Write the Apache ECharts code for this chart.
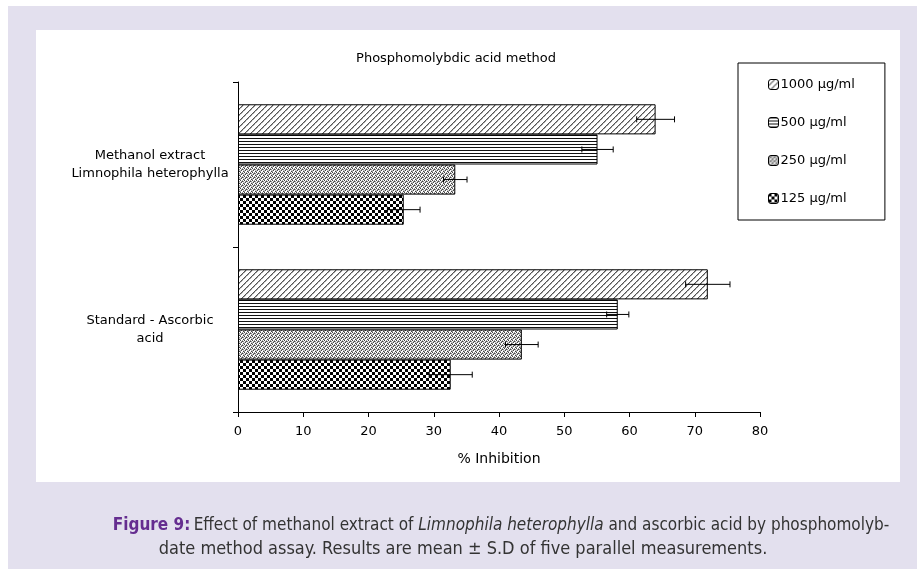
<!DOCTYPE html>
<html>
<head>
<meta charset="utf-8">
<script src="https://cdn.jsdelivr.net/npm/echarts@6/dist/echarts.min.js"></script>
<style>
html,body{margin:0;padding:0;background:#fff;}
#main{width:917px;height:569px;}
</style>
</head>
<body>
<div id="main"></div>
<script>
// ---- data ----
const categories = ['Standard - Ascorbic\nacid', 'Methanol extract\nLimnophila heterophylla'];
const seriesNames = ['1000 µg/ml', '500 µg/ml', '250 µg/ml', '125 µg/ml'];
const means1000 = [72.0, 64.0];
const means500  = [58.2, 55.1];
const means250  = [43.5, 33.3];
const means125  = [32.6, 25.4];
const sd1000 = [3.4, 2.9];
const sd500  = [1.7, 2.4];
const sd250  = [2.5, 1.8];
const sd125  = [3.3, 2.5];
const xTicks = {min: 0, max: 80, interval: 10};

const allMeans = [means1000, means500, means250, means125];
const allSd = [sd1000, sd500, sd250, sd125];

// ---- patterns ----
function makeTile(w, h, draw) {
  const c = document.createElement('canvas');
  c.width = w; c.height = h;
  const ctx = c.getContext('2d');
  ctx.fillStyle = '#fff';
  ctx.fillRect(0, 0, w, h);
  draw(ctx);
  return c;
}
const pat1000 = makeTile(6, 6, ctx => {
  ctx.fillStyle = '#555';
  for (let i = 0; i < 6; i++) { ctx.fillRect(i, 5 - i, 1, 1); }
  ctx.fillStyle = '#a0a0a0';
  for (let i = 0; i < 6; i++) { ctx.fillRect((i + 1) % 6, 5 - i, 1, 1); }
  ctx.fillStyle = '#cccccc';
  ctx.fillRect(0, 0, 1, 1); ctx.fillRect(3, 3, 1, 1);
});
const pat500 = makeTile(4, 3, ctx => {
  ctx.fillStyle = '#111';
  ctx.fillRect(0, 0, 4, 1);
});
const pat250 = makeTile(4, 4, ctx => {
  ctx.fillStyle = '#444';
  ctx.fillRect(0, 0, 1, 1); ctx.fillRect(2, 1, 1, 1);
  ctx.fillRect(1, 2, 1, 1); ctx.fillRect(3, 3, 1, 1);
  ctx.fillStyle = '#999';
  ctx.fillRect(2, 0, 1, 1); ctx.fillRect(0, 3, 1, 1);
  ctx.fillRect(3, 1, 1, 1); ctx.fillRect(1, 1, 1, 1);
  ctx.fillStyle = '#c8c8c8';
  ctx.fillRect(3, 2, 1, 1); ctx.fillRect(0, 2, 1, 1);
});
const pat125 = makeTile(6, 6, ctx => {
  ctx.fillStyle = '#000';
  ctx.fillRect(0, 0, 3, 3);
  ctx.fillRect(3, 3, 3, 3);
});
const patterns = [pat1000, pat500, pat250, pat125];

const catGap = 0.27; // barCategoryGap fraction
const nSeries = 4;

const barSeries = seriesNames.map((name, i) => ({
  name: name,
  type: 'bar',
  data: allMeans[i],
  barGap: '0%',
  barCategoryGap: (catGap * 100) + '%',
  itemStyle: {
    color: {image: patterns[i], repeat: 'repeat'},
    borderColor: '#000',
    borderWidth: 1
  },
  z: 2
}));

const errSeries = seriesNames.map((name, i) => ({
  name: name,
  type: 'custom',
  data: allMeans[i].map((m, k) => [m, allSd[i][k], k]),
  encode: {x: [0], y: 2},
  z: 5,
  silent: true,
  renderItem: function (params, api) {
    const m = api.value(0), sd = api.value(1), cat = api.value(2);
    const center = api.coord([m, cat]);
    const band = api.size([0, 1])[1];
    const used = band * (1 - catGap);
    const w = used / nSeries;
    const y = center[1] - used / 2 + w * (i + 0.5);
    const x1 = api.coord([m - sd, cat])[0];
    const x2 = api.coord([m + sd, cat])[0];
    const st = {stroke: '#000', lineWidth: 1};
    return {
      type: 'group',
      children: [
        {type: 'line', shape: {x1: x1, y1: y, x2: x2, y2: y}, style: st},
        {type: 'line', shape: {x1: x1, y1: y - 3, x2: x1, y2: y + 3}, style: st},
        {type: 'line', shape: {x1: x2, y1: y - 3, x2: x2, y2: y + 3}, style: st}
      ]
    };
  }
}));

const chart = echarts.init(document.getElementById('main'), null, {renderer: 'canvas'});
const font = 'DejaVu Sans, Liberation Sans, Arial, sans-serif';
const capFont = 'Liberation Sans Narrow, DejaVu Sans Condensed, sans-serif';
chart.setOption({
  animation: false,
  textStyle: {fontFamily: font},
  graphic: [
    {type: 'rect', z: -100, shape: {x: 8, y: 6, width: 909, height: 563}, style: {fill: '#e3e0ee'}},
    {type: 'rect', z: -99, shape: {x: 36, y: 30, width: 864, height: 452}, style: {fill: '#ffffff'}},
    {
      type: 'text', z: 10, x: 501, y: 526,
      style: {
        text: '{b|Figure 9:} {n|Effect of methanol extract of }{i|Limnophila heterophylla}{n| and ascorbic acid by phosphomolyb-}',
        align: 'center', verticalAlign: 'middle',
        rich: {
          b: {fontFamily: capFont, fontWeight: 'bold', fontSize: 17, fill: '#652d90'},
          n: {fontFamily: capFont, fontSize: 17, fill: '#333'},
          i: {fontFamily: capFont, fontStyle: 'italic', fontSize: 17, fill: '#333'}
        }
      }
    },
    {
      type: 'text', z: 10, x: 463, y: 549,
      style: {
        text: 'date method assay. Results are mean ± S.D of five parallel measurements.',
        align: 'center', verticalAlign: 'middle',
        fontFamily: capFont, fontSize: 18, fill: '#333'
      }
    }
  ],
  title: {
    text: 'Phosphomolybdic acid method',
    left: 451, top: 47, textAlign: 'center',
    textStyle: {fontSize: 13, fontWeight: 'normal', color: '#000', fontFamily: font}
  },
  legend: {
    orient: 'vertical',
    left: 738, top: 63,
    padding: [15, 30, 15, 30],
    itemGap: 25,
    itemWidth: 10, itemHeight: 10,
    itemStyle: {borderColor: '#000', borderWidth: 1},
    borderColor: '#000', borderWidth: 1,
    backgroundColor: '#fff',
    data: seriesNames,
    textStyle: {fontSize: 13, color: '#000', fontFamily: font, padding: [0, 0, 0, -3]}
  },
  grid: {left: 238, right: 157, top: 82, bottom: 157, containLabel: false},
  xAxis: {
    type: 'value', min: xTicks.min, max: xTicks.max, interval: xTicks.interval,
    name: '% Inhibition', nameLocation: 'middle', nameGap: 40,
    nameTextStyle: {fontSize: 14, color: '#000', fontFamily: font},
    axisLine: {show: true, lineStyle: {color: '#000', width: 1}},
    axisTick: {show: true, length: 5, lineStyle: {color: '#000'}},
    axisLabel: {fontSize: 13, color: '#000', margin: 13, fontFamily: font},
    splitLine: {show: false}
  },
  yAxis: {
    type: 'category', data: categories,
    axisLine: {show: true, lineStyle: {color: '#000', width: 1}},
    axisTick: {show: true, length: 5, alignWithLabel: false, lineStyle: {color: '#000'}},
    axisLabel: {fontSize: 13, color: '#000', align: 'center', margin: 88, lineHeight: 18,
      padding: [13, 0, 0, 0], fontFamily: font}
  },
  series: barSeries.concat(errSeries)
});
</script>
</body>
</html>
